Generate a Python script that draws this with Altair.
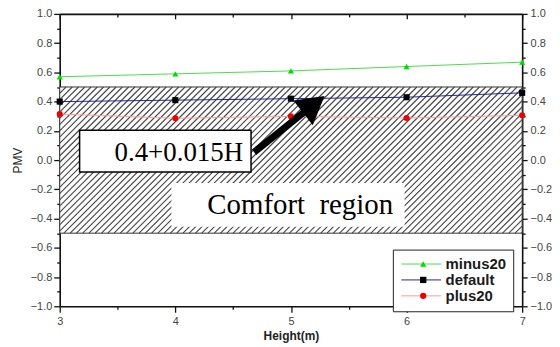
import altair as alt
import numpy as np
import pandas as pd

# ---- data ----
heights = [3, 4, 5, 6, 7]
series_names = ["minus20", "default", "plus20"]
minus20 = [0.57, 0.59, 0.61, 0.64, 0.67]
default = [0.40, 0.41, 0.42, 0.43, 0.46]
plus20 = [0.315, 0.286, 0.299, 0.288, 0.306]

line_colors = ["#4ddc4d", "#23239a", "#ff9a9a"]
marker_colors = ["#00dd00", "#000000", "#ee0000"]
marker_shapes = ["triangle-up", "square", "circle"]

x_ticks = [3, 3.5, 4, 4.5, 5, 5.5, 6, 6.5, 7]
y_ticks = [-1.0, -0.9, -0.8, -0.7, -0.6, -0.5, -0.4, -0.3, -0.2, -0.1, 0.0,
           0.1, 0.2, 0.3, 0.4, 0.5, 0.6, 0.7, 0.8, 0.9, 1.0]

comfort_low, comfort_high = -0.5, 0.5

# annotation positions (data units)
formula_box = {"x": 3.172, "x2": 4.655, "y": -0.082, "y2": 0.204}
comfort_box = {"x": 3.966, "x2": 5.983, "y": -0.456, "y2": -0.156}
labels_text = ["0.4+0.015H", "Comfort\u00a0\u00a0region"]
labels_x = [4.03, 5.08]
labels_y = [0.048, -0.306]
labels_size = [27, 29]
arrow_tail = (4.681, 0.054)
arrow_head = (5.198, 0.381)

W, H = 465, 294

rows = []
for name, vals in zip(series_names, [minus20, default, plus20]):
    for h, v in zip(heights, vals):
        rows.append({"Height": h, "PMV": v, "series": name, "key": name + "_pt"})
df = pd.DataFrame(rows)
point_keys = [n + "_pt" for n in series_names]

xs = alt.Scale(domain=[3, 7], nice=False, zero=False)
ys = alt.Scale(domain=[-1, 1], nice=False, zero=False)

lab_font = "Liberation Sans"
y_major = "abs(round(datum.value*10)) % 2 == 0"
x_major = "abs(round(datum.value*2)) % 2 == 0"

axis_common = dict(domainColor="#111", domainWidth=1.6, tickColor="#111", tickWidth=1.3,
                   grid=False, labelFont=lab_font, labelFontSize=11, labelColor="#444",
                   labelOverlap=False, labelFlush=False)

y_left = alt.Axis(orient="left", values=y_ticks,
                  tickSize={"condition": {"test": y_major, "value": 6}, "value": 3},
                  labelExpr=f"{y_major} ? format(datum.value, '.1f') : ''",
                  labelPadding=2, title="PMV", titleFont=lab_font, titleFontSize=12,
                  titleFontWeight="normal", titleColor="#222", titlePadding=6, **axis_common)
y_right = alt.Axis(orient="right", values=y_ticks,
                   tickSize={"condition": {"test": y_major, "value": 5}, "value": 3},
                   labelExpr=f"{y_major} ? format(datum.value, '.1f') : ''",
                   labelPadding=3, title=None, **axis_common)
x_bottom = alt.Axis(orient="bottom", values=x_ticks,
                    tickSize={"condition": {"test": x_major, "value": 6}, "value": 3},
                    labelExpr=f"{x_major} ? format(datum.value, 'd') : ''",
                    labelPadding=3, title="Height(m)", titleFont=lab_font, titleFontSize=12,
                    titleFontWeight="bold", titleColor="#222", titlePadding=4, **axis_common)
x_top = alt.Axis(orient="bottom", offset=-H, values=x_ticks,
                 tickSize={"condition": {"test": x_major, "value": 5}, "value": 3},
                 labels=False, title=None, domainColor="#111", domainWidth=1.6,
                 tickColor="#111", tickWidth=1.3, grid=False)

# comfort band
band_df = pd.DataFrame({"x": [3], "x2": [7], "y": [comfort_low], "y2": [comfort_high]})
band = alt.Chart(band_df).mark_rect(fill="white", stroke="#333", strokeWidth=1).encode(
    x=alt.X("x:Q", scale=xs, axis=x_bottom),
    x2="x2:Q",
    y=alt.Y("y:Q", scale=ys, axis=y_left),
    y2="y2:Q",
)

# hatch lines (decoration, 45 degrees in pixel space)
dx = (comfort_high - comfort_low) * (H / 2) / (W / 4)
step = 6.3 / (W / 4)
starts = np.arange(3 - dx, 7 + step, step)
hatch_df = pd.DataFrame({"x": starts, "x2": starts + dx,
                         "y": comfort_low, "y2": comfort_high})
hatch = alt.Chart(hatch_df).mark_rule(color="#444444", strokeWidth=1.1, clip=True).encode(
    x=alt.X("x:Q", scale=xs, axis=x_top),
    x2="x2:Q",
    y=alt.Y("y:Q", scale=ys, axis=y_right),
    y2="y2:Q",
)

LEG_X, LEG_Y, LEG_PAD = 335, 237, 7

lines = alt.Chart(df).mark_line(strokeWidth=1).encode(
    x=alt.X("Height:Q", scale=xs, axis=None),
    y=alt.Y("PMV:Q", scale=ys, axis=None),
    color=alt.Color("series:N", sort=series_names,
                    scale=alt.Scale(domain=series_names, range=line_colors),
                    legend=alt.Legend(orient="none", legendX=LEG_X, legendY=LEG_Y, title=None,
                                      symbolType="M-4,0H4", symbolSize=100,
                                      symbolStrokeWidth=1,
                                      symbolOffset=14, labelOffset=17, padding=LEG_PAD,
                                      rowPadding=-3, labelFont=lab_font, labelFontSize=15,
                                      labelFontWeight="bold",
                                      labelColor="#1a1a1a", strokeColor="#222",
                                      fillColor="white")),
)

pt_legend = alt.Legend(orient="none", legendX=LEG_X, legendY=LEG_Y, title=None,
                       symbolSize=40, symbolOffset=16, padding=LEG_PAD, rowPadding=-3,
                       labelFont=lab_font, labelFontSize=15, labelExpr="''",
                       symbolStrokeWidth=0)
points = alt.Chart(df).mark_point(filled=True, size=38, opacity=1).encode(
    x=alt.X("Height:Q", scale=xs, axis=None),
    y=alt.Y("PMV:Q", scale=ys, axis=None),
    fill=alt.Fill("key:N", sort=point_keys,
                  scale=alt.Scale(domain=point_keys, range=marker_colors),
                  legend=pt_legend),
    shape=alt.Shape("key:N", sort=point_keys,
                    scale=alt.Scale(domain=point_keys, range=marker_shapes),
                    legend=pt_legend),
)

box_df = pd.DataFrame([dict(**formula_box, sw=1.5), dict(**comfort_box, sw=0)])
boxes = alt.Chart(box_df).mark_rect(fill="white", stroke="black").encode(
    x=alt.X("x:Q", scale=xs, axis=None), x2="x2:Q",
    y=alt.Y("y:Q", scale=ys, axis=None), y2="y2:Q",
    strokeWidth=alt.StrokeWidth("sw:Q", scale=None, legend=None),
)

text_df = pd.DataFrame({"t": labels_text, "x": labels_x, "y": labels_y, "s": labels_size})
texts = alt.Chart(text_df).mark_text(font="Liberation Serif", color="black",
                                     align="center", baseline="middle").encode(
    x=alt.X("x:Q", scale=xs, axis=None),
    y=alt.Y("y:Q", scale=ys, axis=None),
    text="t:N",
    size=alt.Size("s:Q", scale=None, legend=None),
)

arrow_df = pd.DataFrame({"x": [arrow_tail[0]], "y": [arrow_tail[1]],
                         "x2": [arrow_head[0]], "y2": [arrow_head[1]]})
shaft = alt.Chart(arrow_df).mark_rule(color="black", strokeWidth=7).encode(
    x=alt.X("x:Q", scale=xs, axis=None), x2="x2:Q",
    y=alt.Y("y:Q", scale=ys, axis=None), y2="y2:Q",
)
head = alt.Chart(arrow_df).mark_point(shape="triangle-up", filled=True, color="black",
                                      size=1000, angle=52, opacity=1).encode(
    x=alt.X("x2:Q", scale=xs, axis=None),
    y=alt.Y("y2:Q", scale=ys, axis=None),
)

chart = alt.layer(band, hatch, lines, points, boxes, texts, shaft, head).resolve_axis(
    x="independent", y="independent"
).properties(
    width=W, height=H,
    autosize=alt.AutoSizeParams(type="none"),
    padding={"left": 52, "top": 5, "right": 30, "bottom": 38},
).configure_view(stroke=None).configure(background="white")

chart.save("out.html", embed_options={"renderer": "svg", "actions": False})
